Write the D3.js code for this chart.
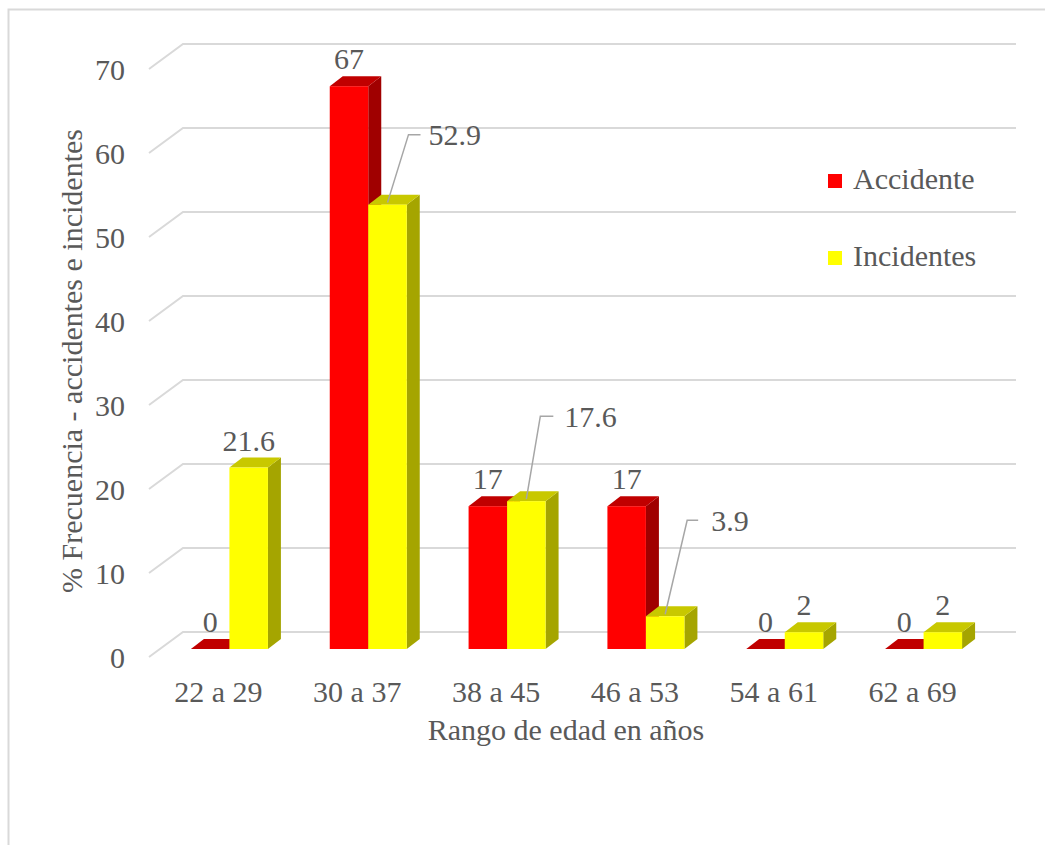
<!DOCTYPE html>
<html>
<head>
<meta charset="utf-8">
<script src="https://cdn.jsdelivr.net/npm/d3@7"></script>
</head>
<body style="margin:0">
<svg id="chart" width="1045" height="845"></svg>
<script>
// data
var categories = ["22 a 29", "30 a 37", "38 a 45", "46 a 53", "54 a 61", "62 a 69"];
var accidente = [0, 67, 17, 17, 0, 0];
var incidentes = [21.6, 52.9, 17.6, 3.9, 2, 2];
var yTicks = [0, 10, 20, 30, 40, 50, 60, 70];
var seriesNames = ["Accidente", "Incidentes"];

var FS = "30px";

var svg = d3.select("#chart");

// helper so every label gets the same serif font and grey colour
function addText(sel) {
    return sel.append("text")
        .attr("font-family", "Liberation Serif")
        .style("font-family", "'Liberation Serif'")
        .style("font-size", FS)
        .attr("fill", "#595959");
}

// outer chart frame
svg.append("rect")
    .attr("x", 8.5).attr("y", 9.5)
    .attr("width", 1100).attr("height", 900)
    .attr("fill", "none")
    .attr("stroke", "#d9d9d9")
    .attr("stroke-width", 2);

// back wall scales
var x = d3.scaleBand()
    .domain(categories)
    .range([183, 1016]);

var y = d3.scaleLinear()
    .domain([0, 70])
    .range([632, 44]);

// 3d offsets: front of the floor, bar front face, bar depth
var floorDx = -34, floorDy = 25;
var barDx = -23, barDy = 17;
var depthDx = 13, depthDy = -10;
var barW = 38.5;

// gridlines with the diagonal on the side wall
var grid = svg.append("g");
yTicks.forEach(function(t) {
    grid.append("path")
        .attr("d", "M" + (183 + floorDx) + "," + (y(t) + floorDy) + "L183," + y(t) + "L1016," + y(t))
        .attr("fill", "none")
        .attr("stroke", "#d9d9d9")
        .attr("stroke-width", 2);
});

// y tick labels (front plane)
var yLab = svg.append("g");
yTicks.forEach(function(t) {
    addText(yLab)
        .attr("x", 125)
        .attr("y", y(t) + floorDy)
        .attr("dy", "0.35em")
        .attr("text-anchor", "end")
        .text(t);
});

// x tick labels
var xLab = svg.append("g");
categories.forEach(function(c) {
    addText(xLab)
        .attr("x", x(c) + x.bandwidth() / 2 + floorDx)
        .attr("y", 702)
        .attr("text-anchor", "middle")
        .text(c);
});

// axis titles
addText(svg)
    .attr("x", 566)
    .attr("y", 740)
    .attr("text-anchor", "middle")
    .text("Rango de edad en años");

addText(svg)
    .attr("transform", "translate(82,361) rotate(-90)")
    .attr("text-anchor", "middle")
    .text("% Frecuencia - accidentes e incidentes");

// colours: front, top, side
var shades = {
    "Accidente": ["#ff0000", "#c00000", "#a00000"],
    "Incidentes": ["#ffff00", "#c8c800", "#a5a500"]
};

// build bar list
var bars = [];
categories.forEach(function(c, i) {
    var cx = x(c) + x.bandwidth() / 2 + barDx;
    bars.push({ key: "Accidente", cat: c, value: accidente[i], x0: cx - barW });
    bars.push({ key: "Incidentes", cat: c, value: incidentes[i], x0: cx });
});

var base = y(0) + barDy;
function topY(v) { return y(v) + barDy; }

var barG = svg.append("g")
    .selectAll("g")
    .data(bars)
    .enter().append("g");

// side face
barG.append("path")
    .attr("d", function(d) {
        var x1 = d.x0 + barW, t = topY(d.value);
        return "M" + x1 + "," + t + "L" + (x1 + depthDx) + "," + (t + depthDy) +
            "L" + (x1 + depthDx) + "," + (base + depthDy) + "L" + x1 + "," + base + "Z";
    })
    .attr("fill", function(d) { return shades[d.key][2]; });

// top face
barG.append("path")
    .attr("d", function(d) {
        var t = topY(d.value);
        return "M" + d.x0 + "," + t + "L" + (d.x0 + depthDx) + "," + (t + depthDy) +
            "L" + (d.x0 + barW + depthDx) + "," + (t + depthDy) + "L" + (d.x0 + barW) + "," + t + "Z";
    })
    .attr("fill", function(d) { return shades[d.key][1]; });

// front face
barG.append("rect")
    .attr("x", function(d) { return d.x0; })
    .attr("y", function(d) { return topY(d.value); })
    .attr("width", barW)
    .attr("height", function(d) { return base - topY(d.value); })
    .attr("fill", function(d) { return shades[d.key][0]; });

// data labels; a few yellow ones sit to the side with a leader line
var leader = {
    "30 a 37": { tx: 41, ty: -70, lx: 21, hx: 12 },
    "38 a 45": { tx: 38, ty: -85, lx: 14, hx: 13 },
    "46 a 53": { tx: 46, ty: -96, lx: 22, hx: 11 }
};

var labels = svg.append("g");
bars.forEach(function(d) {
    var cx = d.x0 + barW / 2, t = topY(d.value);
    var L = d.key === "Incidentes" ? leader[d.cat] : null;
    if (L) {
        labels.append("path")
            .attr("d", "M" + cx + "," + (t - 2) + "L" + (cx + L.lx) + "," + (t + L.ty) +
                "L" + (cx + L.lx + L.hx) + "," + (t + L.ty))
            .attr("fill", "none")
            .attr("stroke", "#a6a6a6")
            .attr("stroke-width", 1.5);
        addText(labels)
            .attr("x", cx + L.tx)
            .attr("y", t + L.ty)
            .attr("dy", "0.35em")
            .text(d.value);
    } else {
        addText(labels)
            .attr("x", cx)
            .attr("y", t - 17)
            .attr("text-anchor", "middle")
            .text(d.value);
    }
});

// legend
var legend = svg.append("g");
seriesNames.forEach(function(s, i) {
    legend.append("rect")
        .attr("x", 828)
        .attr("y", 174 + i * 77)
        .attr("width", 14)
        .attr("height", 14)
        .attr("fill", shades[s][0]);
    addText(legend)
        .attr("x", 853)
        .attr("y", 189 + i * 77)
        .text(s);
});
</script>
</body>
</html>
